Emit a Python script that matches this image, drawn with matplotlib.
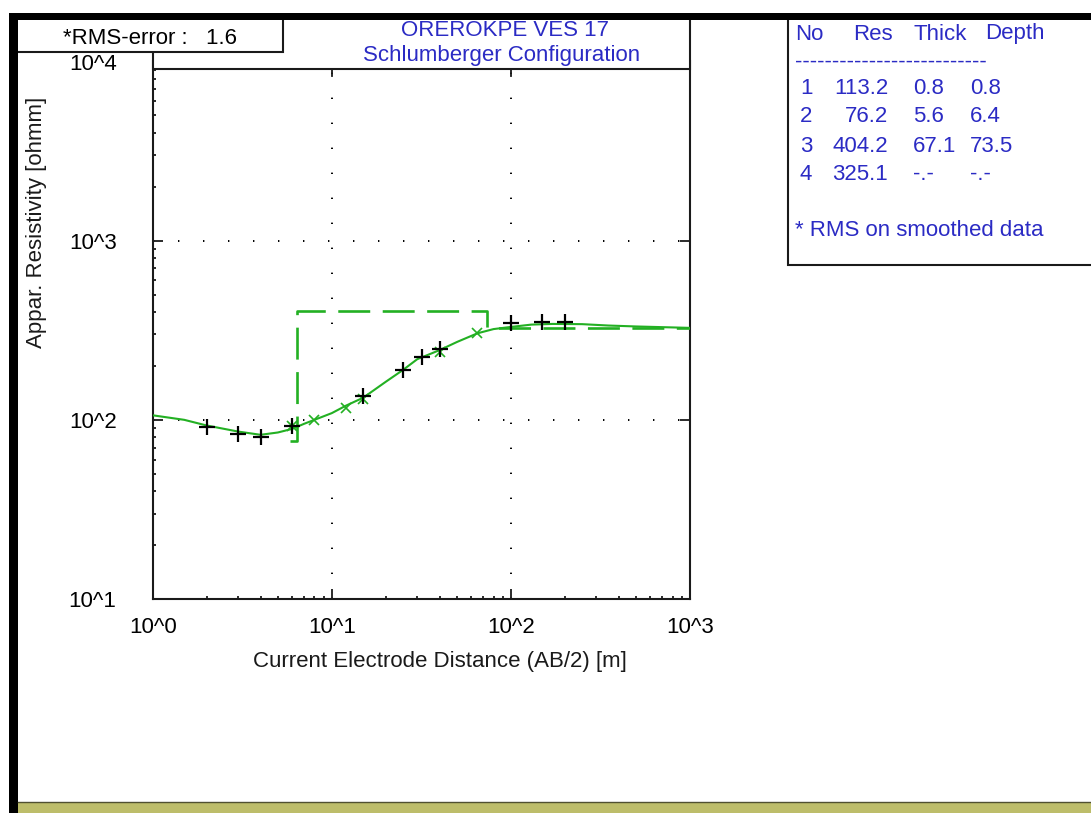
import numpy as np
import matplotlib
matplotlib.use("Agg")
import matplotlib.pyplot as plt
from matplotlib.patches import Rectangle
from matplotlib.lines import Line2D
from matplotlib.ticker import LogLocator, FuncFormatter, NullFormatter
from matplotlib.transforms import blended_transform_factory

plt.rcParams['font.family'] = ['Liberation Sans', 'DejaVu Sans']
plt.rcParams['lines.scale_dashes'] = False

# ---------------- data ----------------
# observed field data (AB/2 [m], apparent resistivity [ohm m])
ab2_obs = [2, 3, 4, 6, 15, 25, 32, 40, 100, 150, 200]
rho_obs = [91.6, 83.3, 80.5, 92.3, 136, 190, 225, 247, 348, 352, 352]

# smoothed / calculated points (x markers)
ab2_x = [6, 8, 12, 15, 40, 65]
rho_x = [92, 99.6, 116, 131, 240, 304]

# calculated model response curve
ab2_model = [1, 1.5, 2, 3, 4, 5, 6, 7, 8, 10, 12, 15, 20, 25, 30, 40, 50, 65,
             80, 100, 130, 170, 250, 350, 500, 1000]
rho_model = [106, 100, 93, 86, 82.5, 85, 89, 95, 100, 109, 120, 133, 163, 190,
             218, 245, 272, 304, 321, 330, 340, 343, 342, 336, 332, 326]

# layered model
layer_no = [1, 2, 3, 4]
layer_res = [113.2, 76.2, 404.2, 325.1]
layer_thick = [0.8, 5.6, 67.1]
layer_depth = [0.8, 6.4, 73.5]

x_ticks = [1, 10, 100, 1000]
y_ticks = [10, 100, 1000, 10000]

title1 = "OREROKPE VES 17"
title2 = "Schlumberger Configuration"
rms_text = "*RMS-error :   1.6"

# ---------------- style ----------------
W, H = 1091, 813
GREEN = '#23B023'
BLUE = '#2B2BC4'
FS = 16


def fx(px):
    return px / W


def fy(py):
    return 1 - py / H


fig = plt.figure(figsize=(W / 100, H / 100), dpi=100)
fig.patch.set_facecolor('white')

ax_l, ax_r, ax_t, ax_b = 152.7, 690, 61.5, 599
ax = fig.add_axes([fx(ax_l), fy(ax_b), (ax_r - ax_l) / W, (ax_b - ax_t) / H])
ax.set_xscale('log')
ax.set_yscale('log')
ax.set_xlim(1, 1000)
ax.set_ylim(10, 10000)

for s in ['left', 'right', 'bottom']:
    ax.spines[s].set_linewidth(1.5)
    ax.spines[s].set_color('#1a1a1a')
ax.spines['top'].set_visible(False)

ax.xaxis.set_major_locator(LogLocator(base=10, numticks=10))
ax.yaxis.set_major_locator(LogLocator(base=10, numticks=10))
ax.xaxis.set_minor_locator(LogLocator(base=10, subs=np.arange(2, 10), numticks=20))
ax.yaxis.set_minor_locator(LogLocator(base=10, subs=np.arange(2, 10), numticks=20))
fmt = FuncFormatter(lambda v, p: "10^%d" % int(round(np.log10(v))))
ax.xaxis.set_major_formatter(fmt)
ax.yaxis.set_major_formatter(fmt)
ax.xaxis.set_minor_formatter(NullFormatter())
ax.yaxis.set_minor_formatter(NullFormatter())

ax.tick_params(which='major', direction='in', length=7, width=1.3, color='#1a1a1a',
               left=True, right=True, bottom=True, top=False, labelsize=FS)
ax.tick_params(axis='y', which='major', pad=26)
ax.tick_params(axis='x', which='major', pad=13)
ax.tick_params(which='minor', direction='in', length=2.5, width=1.3, color='#1a1a1a',
               left=True, right=False, bottom=True, top=False)

# dotted grid at inner decades
ax.grid(True, which='major', linestyle=(0, (1.0, 17)), color='black', linewidth=1.4)

# layered model (dashed step)
start_x = layer_depth[1] * 0.91
mx = [start_x, layer_depth[1], layer_depth[1], layer_depth[2], layer_depth[2], 1000]
my = [layer_res[1], layer_res[1], layer_res[2], layer_res[2], layer_res[3], layer_res[3]]
ax.plot(mx, my, color=GREEN, lw=1.9, linestyle=(0, (23, 9)), zorder=3)

# model response curve
ax.plot(ab2_model, rho_model, color=GREEN, lw=1.5, zorder=4)
ax.plot(ab2_x, rho_x, linestyle='none', marker='x', color=GREEN, ms=7, mew=1.2, zorder=5)
ax.plot(ab2_obs, rho_obs, linestyle='none', marker='+', color='black', ms=11, mew=1.6, zorder=6)

# ---------------- frame & header ----------------
# header box (above plot)
fig.add_artist(Rectangle((fx(ax_l), fy(69)), (ax_r - ax_l) / W, (69 - 18) / H,
                         transform=fig.transFigure, facecolor='white',
                         edgecolor='#1a1a1a', lw=1.5, zorder=5))
# top ticks at the header line
bt = blended_transform_factory(ax.transData, fig.transFigure)
for xv in x_ticks[1:-1]:
    fig.add_artist(Line2D([xv, xv], [fy(69), fy(76)], transform=bt,
                          color='#1a1a1a', lw=1.3, zorder=6))
# RMS box
fig.add_artist(Rectangle((fx(16), fy(52)), (283 - 16) / W, (52 - 16) / H,
                         transform=fig.transFigure, facecolor='white',
                         edgecolor='#1a1a1a', lw=1.5, zorder=7))
fig.text(fx(150), fy(38), rms_text, ha='center', va='center', fontsize=FS,
         color='black', zorder=8)

fig.text(fx(505), fy(31), title1, ha='center', va='center', fontsize=FS, color=BLUE, zorder=8)
fig.text(fx(502), fy(56), title2, ha='center', va='center', fontsize=FS, color=BLUE, zorder=8)

# axis labels
fig.text(fx(37), fy(222), "Appar. Resistivity [ohmm]", rotation=90, ha='center',
         va='center', fontsize=FS, color='#1a1a1a')
fig.text(fx(440), fy(661), "Current Electrode Distance (AB/2) [m]", ha='center',
         va='center', fontsize=FS, color='#1a1a1a')

# table box
fig.add_artist(Rectangle((fx(788), fy(265)), (1100 - 788) / W, (265 - 16) / H,
                         transform=fig.transFigure, facecolor='white',
                         edgecolor='#1a1a1a', lw=1.5, zorder=5))
hdr_y = 34
for word, xp in zip(["No", "Res", "Thick", "Depth"], [795, 853, 913, 985]):
    fig.text(fx(xp), fy(hdr_y), word, ha='left', va='center', fontsize=FS, color=BLUE, zorder=8)
fig.text(fx(795), fy(68), "-" * 26, ha='left', va='baseline', fontsize=FS, color=BLUE, zorder=8)
row_y = [88, 117, 146, 175]
for i, n in enumerate(layer_no):
    y = fy(row_y[i])
    fig.text(fx(800), y, str(n), ha='left', va='center', fontsize=FS, color=BLUE, zorder=8)
    fig.text(fx(888), y, "%.1f" % layer_res[i], ha='right', va='center', fontsize=FS, color=BLUE, zorder=8)
    th = "%.1f" % layer_thick[i] if i < len(layer_thick) else "-.-"
    dp = "%.1f" % layer_depth[i] if i < len(layer_depth) else "-.-"
    fig.text(fx(913), y, th, ha='left', va='center', fontsize=FS, color=BLUE, zorder=8)
    fig.text(fx(970), y, dp, ha='left', va='center', fontsize=FS, color=BLUE, zorder=8)
fig.text(fx(795), fy(230), "* RMS on smoothed data", ha='left', va='center', fontsize=FS,
         color=BLUE, zorder=8)

# outer window frame (black bars) and bottom stripe
fig.add_artist(Rectangle((fx(9), fy(20)), (W - 9) / W, 7 / H, transform=fig.transFigure,
                         facecolor='black', edgecolor='none', zorder=9))
fig.add_artist(Rectangle((fx(9), 0), 9 / W, fy(13), transform=fig.transFigure,
                         facecolor='black', edgecolor='none', zorder=9))
fig.add_artist(Rectangle((fx(18), 0), (W - 18) / W, 11 / H, transform=fig.transFigure,
                         facecolor='#BDBD6A', edgecolor='none', zorder=9))
fig.add_artist(Line2D([fx(18), 1], [fy(802), fy(802)], transform=fig.transFigure,
                      color='#505030', lw=1.0, zorder=10))

fig.savefig("out.png", dpi=100, facecolor='white')
